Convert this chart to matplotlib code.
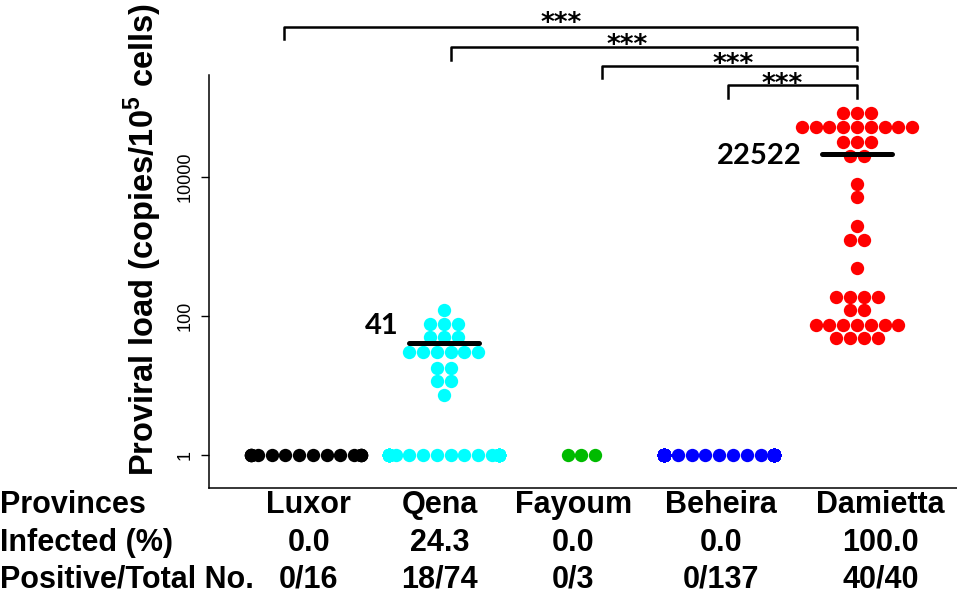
import numpy as np
import matplotlib
matplotlib.use('Agg')
import matplotlib.pyplot as plt
from matplotlib import transforms

plt.rcParams['font.family'] = ['Liberation Sans', 'DejaVu Sans']
plt.rcParams['mathtext.fontset'] = 'custom'
plt.rcParams['mathtext.rm'] = 'Liberation Sans'
plt.rcParams['mathtext.bf'] = 'Liberation Sans:bold'

# ---- data ----
provinces = ['Luxor', 'Qena', 'Fayoum', 'Beheira', 'Damietta']
infected_pct = ['0.0', '24.3', '0.0', '0.0', '100.0']
pos_total = ['0/16', '18/74', '0/3', '0/137', '40/40']
colors = ['black', '#00FFFF', '#00BB00', '#0000FF', '#FF0000']

# negative samples are drawn at 1 on the log axis
n_negative = [16, 56, 3, 137, 0]
qena_pos = [122, 76, 76, 76, 50, 50, 50, 30, 30, 30, 30, 30, 30,
            18, 18, 11.7, 11.7, 7.3]
damietta_pos = [82600, 82600, 82600,
                51900, 51900, 51900, 51900, 51900, 51900, 51900, 51900, 51900,
                32200, 32200, 32200, 20200, 20200,
                7930, 5100, 1990, 1240, 1240, 486,
                190, 190, 190, 190, 122, 122,
                74, 74, 74, 74, 74, 74, 74, 48, 48, 48, 48]
positives = [[], qena_pos, [], [], damietta_pos]
mean_labels = ['', '41', '', '', '22522']

# comparisons against Damietta (left end, right end), all ***
comp_left = [0.84, 2.05, 3.15, 4.06]
comp_right = 5.0
comp_stars = ['***', '***', '***', '***']

# ---- layout ----
xpos = np.arange(1, 6)
step = 0.1
gutter = 4
bracket_top = [6.16, 5.87, 5.60, 5.32]      # log10 units
bracket_drop = 0.18
star_x = [2.85, 3.33, 4.10, 4.455]
star_y = [6.102, 5.782, 5.517, 5.225]
label_off = {1: (-7.2, 6.3), 4: (-14.4, -7.6)}
table_x = [1.02, 1.97, 2.94, 4.01, 5.17]


def swarm(center, values):
    vals = np.asarray(values, dtype=float)
    xs, ys = [], []
    for v in np.unique(vals):
        n = int(np.sum(vals == v))
        off = np.clip(np.arange(n) - (n - 1) / 2.0, -gutter, gutter)
        xs.extend(center + off * step)
        ys.extend([v] * n)
    return np.array(xs), np.array(ys)


fig = plt.figure(figsize=(9.57, 5.95), dpi=100)
ax = fig.add_axes([209 / 957, 1 - 488 / 595, 1 - 209 / 957, 488 / 595])
ax.set_yscale('log')
ax.set_xlim(0.296, 5.726)
ax.set_ylim(10 ** -0.4748, 10 ** 6.547)

for i in range(5):
    vals = [1.0] * n_negative[i] + list(positives[i])
    xs, ys = swarm(xpos[i], vals)
    ax.plot(xs, ys, 'o', ms=9.6, color=colors[i], mec='none', zorder=3,
            clip_on=False)
    if positives[i]:
        m = np.mean(positives[i])
        ax.plot([xpos[i] - 0.255, xpos[i] + 0.255], [m, m], color='black',
                lw=3.6, solid_capstyle='round', zorder=4)
        ax.annotate(mean_labels[i], xy=(xpos[i] - 0.255, m),
                    xytext=label_off[i], textcoords='offset points',
                    ha='right', va='baseline', fontsize=21,
                    fontweight='bold', family=['Lato', 'DejaVu Sans'])

for k in range(len(comp_left)):
    top = 10 ** bracket_top[k]
    bot = 10 ** (bracket_top[k] - bracket_drop)
    ax.plot([comp_left[k], comp_left[k], comp_right, comp_right],
            [bot, top, top, bot], color='black', lw=1.8, clip_on=False)
    ax.text(star_x[k], 10 ** star_y[k], comp_stars[k], ha='center',
            va='baseline', fontsize=19, fontweight='bold',
            family='DejaVu Sans')

ax.spines['top'].set_visible(False)
ax.spines['right'].set_visible(False)
ax.spines['left'].set_bounds(10 ** -0.4748, 10 ** 5.468)
ax.spines['left'].set_linewidth(1.1)
ax.spines['bottom'].set_linewidth(1.1)
ax.set_xticks([])
ax.set_yticks([1, 100, 10000])
ax.set_yticklabels(['1', '100', '10000'])
ax.yaxis.set_minor_locator(matplotlib.ticker.NullLocator())
ax.tick_params(axis='y', length=5.8, width=1.0, labelsize=13, pad=5.5,
               labelrotation=90)
for t in ax.get_yticklabels():
    t.set_verticalalignment('center')

fig.text(143 / 957, 1 - 239 / 595,
         r'Proviral load (copies/10$^{\mathbf{5}}$ cells)',
         rotation=90, ha='center', va='center', fontsize=23.5,
         fontweight='bold')

# table under the axis
row_names = ['Provinces', 'Infected (%)', 'Positive/Total No.']
row_base = [513, 551, 588]
rows = [provinces, infected_pct, pos_total]
blend = transforms.blended_transform_factory(ax.transData, fig.transFigure)
for r in range(3):
    yb = 1 - row_base[r] / 595
    fig.text(0.0, yb, row_names[r], ha='left', va='baseline', fontsize=22,
             fontweight='bold')
    for j in range(5):
        ax.text(table_x[j], yb, rows[r][j], transform=blend, ha='center',
                va='baseline', fontsize=22, fontweight='bold')

fig.savefig('out.png', dpi=100)
